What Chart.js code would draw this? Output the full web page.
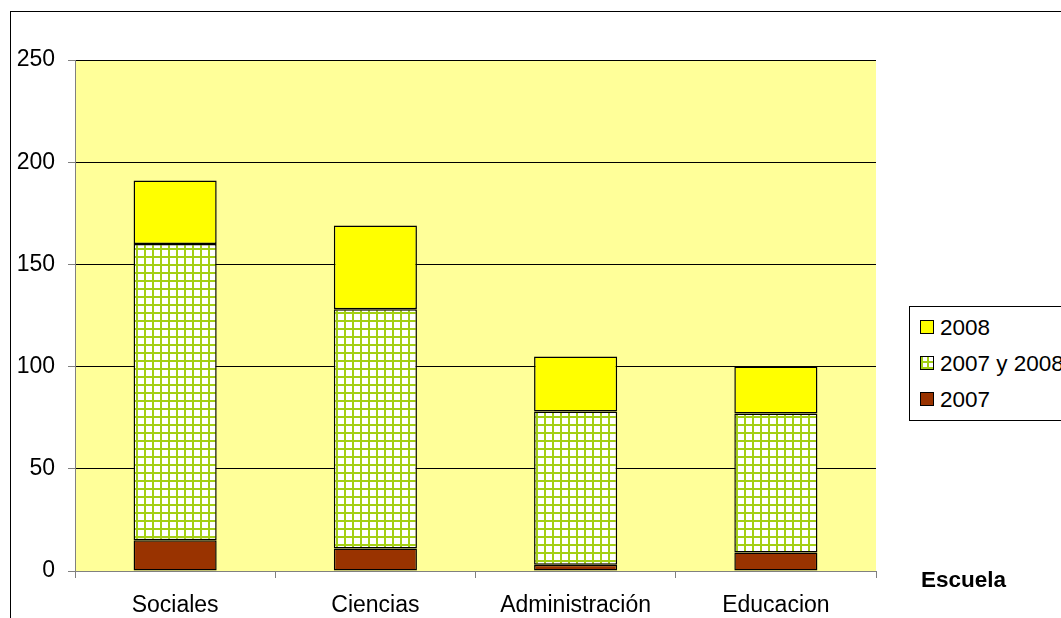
<!DOCTYPE html>
<html>
<head>
<meta charset="utf-8">
<script src="https://cdn.jsdelivr.net/npm/chart.js@4/dist/chart.umd.min.js"></script>
<style>
  html, body { margin: 0; padding: 0; background: #fff; overflow: hidden; }
  #wrap { position: relative; width: 1061px; height: 618px; font-family: "Liberation Sans", Arial, sans-serif; }
  #frame { position: absolute; left: 10px; top: 11px; width: 1200px; height: 800px; border: 1px solid #000; box-sizing: border-box; }
  canvas { position: absolute; left: 0; top: 0; }
  #legend { position: absolute; left: 909px; top: 306px; width: 300px; height: 115px; border: 1px solid #000; background: #fff; box-sizing: border-box; }
  .item { position: absolute; left: 10px; height: 26px; line-height: 26px; font-size: 22.5px; white-space: nowrap; color: #000; }
  .box { display: inline-block; width: 12px; height: 12px; border: 1px solid #000; vertical-align: middle; margin-right: 6px; margin-top: -4px; }
  #title { position: absolute; left: 921px; top: 567px; font-size: 22.5px; font-weight: bold; color: #000; }
</style>
</head>
<body>
<div id="wrap">
  <div id="frame"></div>
  <canvas id="chart" width="1061" height="618"></canvas>
  <div id="legend"></div>
  <div id="title">Escuela</div>
</div>
<script>
// Data
const escuelas = ['Sociales', 'Ciencias', 'Administración', 'Educacion'];
const solo2007 = [15, 11, 3, 9];
const ambos = [145, 117, 75, 68];
const solo2008 = [31, 41, 27, 23];
const yTicks = [0, 50, 100, 150, 200, 250];

// checkered green pattern for "2007 y 2008"
function makePattern() {
  const c = document.createElement('canvas');
  c.width = 8; c.height = 8;
  const g = c.getContext('2d');
  g.fillStyle = '#ffffff';
  g.fillRect(0, 0, 8, 8);
  g.fillStyle = '#a3cf14';
  g.fillRect(0, 0, 8, 2);
  g.fillRect(0, 0, 2, 8);
  return document.getElementById('chart').getContext('2d').createPattern(c, 'repeat');
}
const checker = makePattern();

// plot area background
const plotBg = {
  id: 'plotBg',
  beforeDraw(chart) {
    const a = chart.chartArea, ctx = chart.ctx;
    ctx.save();
    ctx.fillStyle = '#ffff99';
    ctx.fillRect(a.left, a.top, a.right - a.left, a.bottom - a.top);
    ctx.restore();
  }
};

const ctx = document.getElementById('chart').getContext('2d');
const chart = new Chart(ctx, {
  type: 'bar',
  data: {
    labels: escuelas,
    datasets: [
      { label: '2007', data: solo2007, backgroundColor: '#993300' },
      { label: '2007 y 2008', data: ambos, backgroundColor: checker },
      { label: '2008', data: solo2008, backgroundColor: '#ffff00' }
    ].map(d => Object.assign(d, { borderColor: '#000', borderWidth: 1.5, borderSkipped: false, categoryPercentage: 1, barPercentage: 0.415 }))
  },
  options: {
    responsive: false,
    animation: false,
    layout: { padding: { left: 10, right: 185, top: 60, bottom: 0 } },
    plugins: { legend: { display: false }, tooltip: { enabled: false } },
    scales: {
      x: {
        stacked: true,
        grid: { drawOnChartArea: false, drawTicks: true, tickLength: 7, color: '#808080', offset: true },
        border: { color: '#808080' },
        ticks: { color: '#000', font: { family: 'Liberation Sans, Arial', size: 23 }, padding: 14, maxRotation: 0 },
        afterFit(s) { s.height = 47; }
      },
      y: {
        stacked: true,
        min: 0, max: 250,
        afterBuildTicks(s) { s.ticks = yTicks.map(v => ({ value: v })); },
        grid: { color: '#000', tickLength: 7, tickColor: '#808080' },
        border: { color: '#808080' },
        ticks: { color: '#000', font: { family: 'Liberation Sans, Arial', size: 23 }, padding: 13 },
        afterFit(s) { s.width = 65; }
      }
    }
  },
  plugins: [plotBg]
});

// legend (reverse order, like the original)
const legend = document.getElementById('legend');
const entries = [
  { label: '2008', bg: '#ffff00' },
  { label: '2007 y 2008', bg: 'repeating-linear-gradient(90deg,#a3cf14 0 2px,transparent 2px 6px), repeating-linear-gradient(0deg,#a3cf14 0 2px,#fff 2px 6px)' },
  { label: '2007', bg: '#993300' }
];
entries.forEach((e, i) => {
  const d = document.createElement('div');
  d.className = 'item';
  d.style.top = (8 + i * 36) + 'px';
  const b = document.createElement('span');
  b.className = 'box';
  b.style.background = e.bg;
  d.appendChild(b);
  d.appendChild(document.createTextNode(e.label));
  legend.appendChild(d);
});
</script>
</body>
</html>
